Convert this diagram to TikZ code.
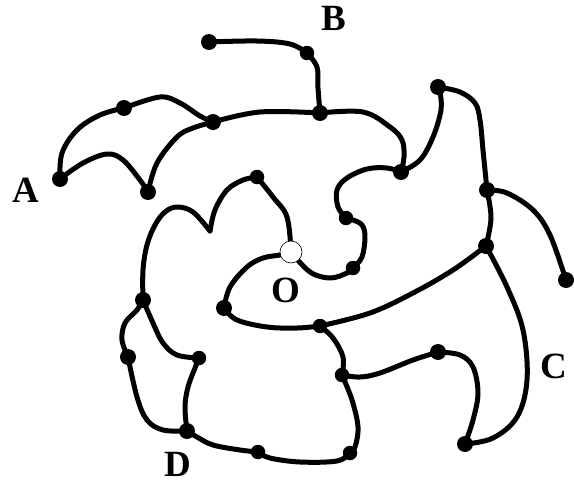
\documentclass[tikz,border=0pt]{standalone}
\usepackage{fontspec}
\setmainfont{Liberation Serif}
\usetikzlibrary{backgrounds}
\begin{document}
\begin{tikzpicture}[x=1pt,y=-1pt,
  vtx/.style={circle,fill=black,inner sep=0pt,minimum size=16pt},
  orig/.style={circle,draw=black,fill=white,line width=0.6pt,inner sep=0pt,minimum size=22pt},
  wire/.style={line width=5pt,line cap=round,line join=round},
  lbl/.style={font=\fontsize{37}{37}\selectfont\bfseries,inner sep=0pt},
  sm/.style={smooth,tension=0.6}]
\useasboundingbox (0,0) rectangle (574,485);
% vertices
\node[vtx] (B1) at (209,42) {};
\node[vtx,minimum size=14.5pt] (Bm) at (307,53) {};
\node[vtx] (B2) at (320,113) {};
\node[vtx] (J) at (213,122) {};
\node[vtx] (A) at (60,179) {};
\node[vtx] (Au) at (124,108) {};
\node[vtx] (Al) at (148,192) {};
\node[vtx] (R1) at (401,172) {};
\node[vtx] (R2) at (438,87) {};
\node[vtx] (R3) at (487,190) {};
\node[vtx] (R4) at (566,280) {};
\node[vtx] (R5) at (486,246) {};
\node[vtx,minimum size=14.5pt] (S1) at (346,218) {};
\node[vtx,minimum size=14.5pt] (S2) at (353,268) {};
\node[vtx,minimum size=14.5pt] (T1) at (257,177) {};
\node[vtx] (L1) at (143,300) {};
\node[vtx] (L2) at (128,357) {};
\node[vtx,minimum size=14.5pt] (L3) at (199,358) {};
\node[vtx] (D1) at (187,431) {};
\node[vtx,minimum size=14.5pt] (D2) at (258,452) {};
\node[vtx,minimum size=14.5pt] (D3) at (350,453) {};
\node[vtx,minimum size=14.5pt] (M1) at (342,375) {};
\node[vtx,minimum size=14.5pt] (M2) at (320,326) {};
\node[vtx] (M3) at (224,308) {};
\node[vtx] (C1) at (438,352) {};
\node[vtx] (C2) at (465,444) {};
\node[orig] (O) at (291,252) {};
\coordinate (K) at (210,231);
% labels
\node[lbl] (LA) at (26,190) {A};
\node[lbl] (LB) at (333.5,18.5) {B};
\node[lbl] (LC) at (553.5,366.5) {C};
\node[lbl] (LD) at (177.5,464) {D};
\node[lbl] (LO) at (285.5,290) {O};
\begin{pgfonlayer}{background}
\draw[wire] plot[sm] coordinates {(B1.center) (257,41) (290,44) (Bm.center)};
\draw[wire] plot[sm] coordinates {(Bm.center) (317,67) (318,88) (B2.center)};
\draw[wire] plot[sm] coordinates {(A.center) (62,153) (77,130) (100,115) (Au.center)};
\draw[wire] plot[sm] coordinates {(Au.center) (160,97) (180,103) (200,116) (J.center)};
\draw[wire] plot[sm] coordinates {(A.center) (83,163) (107,154) (123,160) (140,180) (Al.center)};
\draw[wire] plot[sm] coordinates {(Al.center) (157,163) (177,137) (193,128) (J.center)};
\draw[wire] plot[sm] coordinates {(J.center) (260,112) (B2.center)};
\draw[wire] plot[sm] coordinates {(B2.center) (363,112) (390,127) (402,140) (404,157) (R1.center)};
\draw[wire] plot[sm] coordinates {(R1.center) (420,160) (433,137) (441,110) (440,92) (R2.center)};
\draw[wire] plot[sm] coordinates {(R2.center) (460,92) (475,103) (480,120) (483,150) (R3.center)};
\draw[wire] plot[sm] coordinates {(R3.center) (507,193) (533,210) (550,235) (R4.center)};
\draw[wire] plot[sm] coordinates {(R3.center) (491,218) (R5.center)};
\draw[wire] plot[sm] coordinates {(R5.center) (453,270) (413,293) (370,313) (M2.center)};
\draw[wire] plot[sm] coordinates {(R5.center) (507,287) (523,330) (527,380) (517,417) (493,438) (C2.center)};
\draw[wire] plot[sm] coordinates {(C2.center) (473,420) (478,393) (473,367) (460,355) (C1.center)};
\draw[wire] plot[sm] coordinates {(C1.center) (413,360) (380,373) (360,377) (M1.center)};
\draw[wire] plot[sm] coordinates {(M1.center) (343,357) (333,338) (M2.center)};
\draw[wire] plot[sm] coordinates {(M1.center) (352,400) (358,427) (355,447) (D3.center)};
\draw[wire] plot[sm] coordinates {(D3.center) (337,461) (300,462) (270,458) (D2.center)};
\draw[wire] plot[sm] coordinates {(D2.center) (240,450) (213,445) (197,437) (D1.center)};
\draw[wire] plot[sm] coordinates {(D1.center) (185,407) (188,387) (195,368) (L3.center)};
\draw[wire] plot[sm] coordinates {(L3.center) (177,355) (163,343) (153,323) (L1.center)};
\draw[wire] plot[sm] coordinates {(D1.center) (163,430) (147,420) (137,397) (L2.center)};
\draw[wire] plot[sm] coordinates {(L2.center) (122,340) (125,323) (137,310) (L1.center)};
\draw[wire] plot[sm] coordinates {(L1.center) (143,270) (147,245) (155,225) (165,212) (177,207) (193,212) (K)};
\draw[wire] plot[sm] coordinates {(K) (215,210) (227,190) (243,180) (T1.center)};
\draw[wire] plot[sm] coordinates {(T1.center) (273,197) (287,217) (O.center)};
\draw[wire] plot[sm] coordinates {(O.center) (310,272) (330,278) (347,273) (S2.center)};
\draw[wire] plot[sm] coordinates {(S2.center) (362,257) (365,237) (362,225) (353,220) (S1.center)};
\draw[wire] plot[sm] coordinates {(S1.center) (338,207) (337,190) (347,178) (367,169) (387,168) (R1.center)};
\draw[wire] plot[sm] coordinates {(M2.center) (297,328) (267,327) (237,320) (M3.center)};
\draw[wire] plot[sm] coordinates {(M3.center) (230,287) (247,267) (263,258) (280,255) (O.center)};
\end{pgfonlayer}
\end{tikzpicture}
\end{document}
